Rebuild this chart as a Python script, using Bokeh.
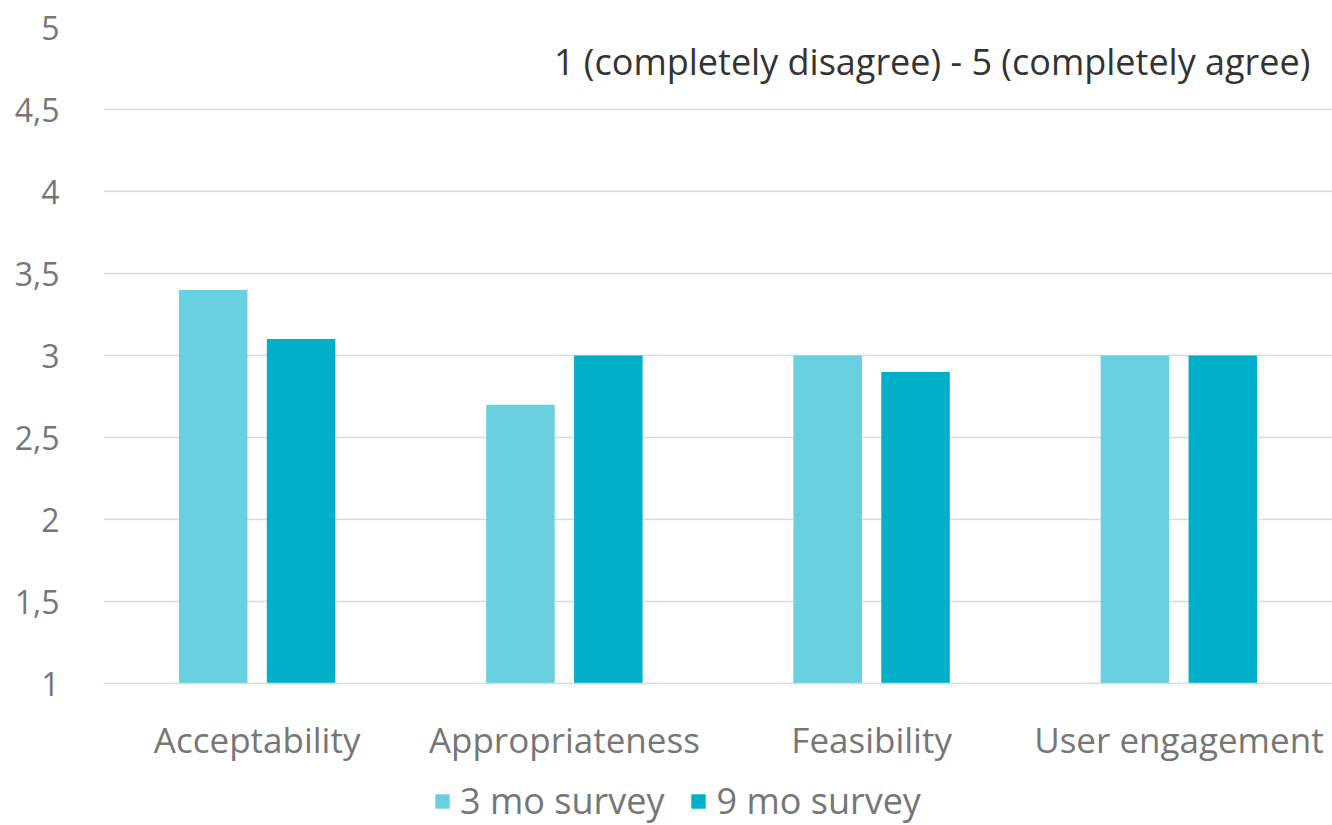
from bokeh.plotting import figure
from bokeh.layouts import column
from bokeh.models import FactorRange, Range1d, Legend, LegendItem, Label, FixedTicker, CustomJSTickFormatter
from bokeh.transform import dodge
from bokeh.embed import file_html
from bokeh.resources import INLINE
from bokeh.models import ColumnDataSource

categories = ["Acceptability", "Appropriateness", "Feasibility", "User engagement"]
three_mo = [3.4, 2.7, 3.0, 3.0]
nine_mo = [3.1, 3.0, 2.9, 3.0]
series_names = ["3 mo survey", "9 mo survey"]
y_ticks = [1, 1.5, 2, 2.5, 3, 3.5, 4, 4.5, 5]
subtitle = "1 (completely disagree) - 5 (completely agree)"

FONT = "Open Sans"
LIGHT = "#69D0DF"
DARK = "#00B0CB"

src = ColumnDataSource(dict(cat=categories, a=three_mo, b=nine_mo))

p = figure(width=1332, height=770, x_range=FactorRange(*categories, range_padding=0),
           y_range=Range1d(1, 5), output_backend="svg", toolbar_location=None,
           min_border_left=103, min_border_right=0, min_border_top=27, min_border_bottom=87)
p.outline_line_color = None

r1 = p.vbar(x=dodge("cat", -0.143, range=p.x_range), top="a", bottom=1, width=0.223,
            source=src, fill_color=LIGHT, line_color=None)
r2 = p.vbar(x=dodge("cat", 0.143, range=p.x_range), top="b", bottom=1, width=0.223,
            source=src, fill_color=DARK, line_color=None)

p.xgrid.grid_line_color = None
p.ygrid.grid_line_color = "#D9D9D9"
p.ygrid.grid_line_width = 1.5
p.yaxis.ticker = FixedTicker(ticks=y_ticks)
p.yaxis.formatter = CustomJSTickFormatter(code="return String(tick).replace('.', ',');")
p.yaxis.axis_line_color = None
p.yaxis.major_tick_line_color = None
p.yaxis.minor_tick_line_color = None
p.yaxis.major_label_standoff = 38
p.yaxis.major_label_text_font = FONT
p.yaxis.major_label_text_font_size = "32px"
p.yaxis.major_label_text_color = "#767676"

p.xaxis.axis_line_color = "#D9D9D9"
p.xaxis.axis_line_width = 1.5
p.xaxis.major_tick_line_color = None
p.xaxis.minor_tick_line_color = None
p.xaxis.major_label_standoff = 26
p.xaxis.major_label_text_font = FONT
p.xaxis.major_label_text_font_size = "35px"
p.xaxis.major_label_text_color = "#767676"

lab = Label(x=3.928, y=4.79, text=subtitle, text_align="right", text_baseline="middle",
            text_font=FONT, text_font_size="36px", text_color="#333333")
p.add_layout(lab)

# legend strip: swatch renderers use the same data but sit outside the strip's visible range
lf = figure(width=1332, height=55, output_backend="svg", toolbar_location=None,
            x_range=FactorRange(*categories, range_padding=0), y_range=Range1d(100, 101),
            x_axis_location=None, y_axis_location=None,
            min_border_left=0, min_border_right=0, min_border_top=0, min_border_bottom=0)
lf.outline_line_color = None
lf.xgrid.grid_line_color = None
lf.ygrid.grid_line_color = None
lr1 = lf.vbar(x="cat", top="a", bottom=1, width=0.2, source=src, fill_color=LIGHT, line_color=None)
lr2 = lf.vbar(x="cat", top="b", bottom=1, width=0.2, source=src, fill_color=DARK, line_color=None)

legend = Legend(items=[LegendItem(label=series_names[0], renderers=[lr1]),
                       LegendItem(label=series_names[1], renderers=[lr2])],
                location=(330, 0), orientation="horizontal",
                glyph_width=18, glyph_height=18, label_standoff=9, spacing=25,
                padding=0, margin=0, border_line_color=None, background_fill_alpha=0,
                label_text_font=FONT, label_text_font_size="36px", label_text_color="#767676")
lf.add_layout(legend, "center")

layout = column(p, lf, spacing=0)
open("out.html", "w").write(file_html(layout, INLINE))
